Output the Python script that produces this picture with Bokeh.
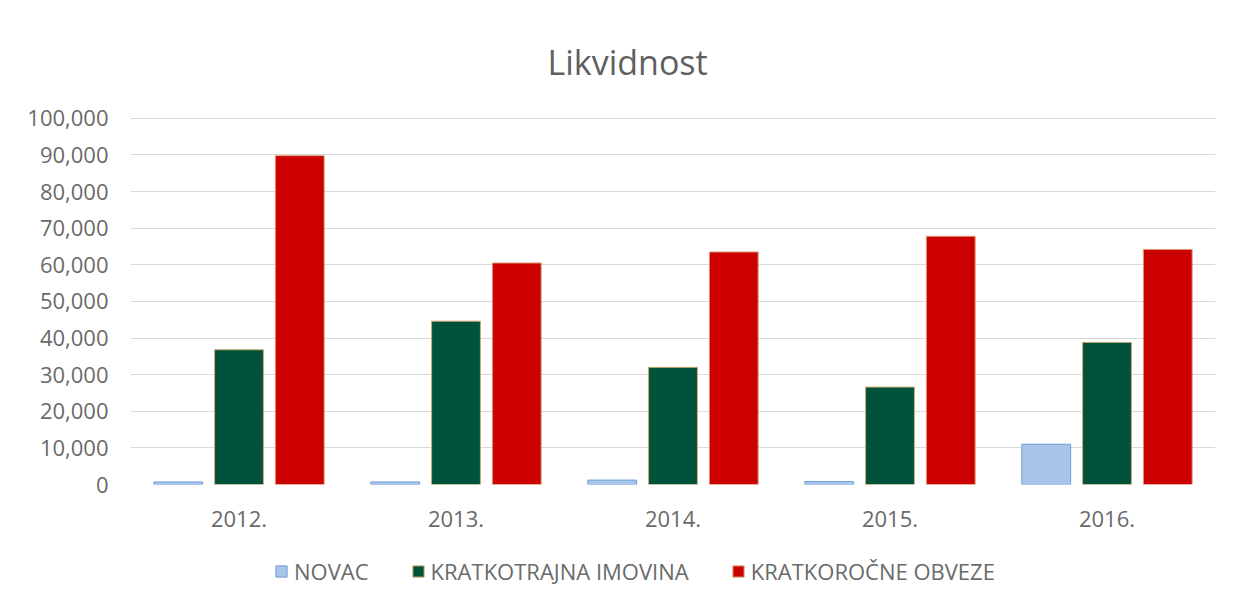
from bokeh.plotting import figure
from bokeh.layouts import column
from bokeh.models import (ColumnDataSource, FactorRange, Range1d, NumeralTickFormatter,
                          FixedTicker, Legend, LegendItem, Title)
from bokeh.transform import dodge
from bokeh.embed import file_html
from bokeh.resources import INLINE

years = ["2012.", "2013.", "2014.", "2015.", "2016."]
novac = [700, 700, 1200, 800, 11000]
kratkotrajna_imovina = [36800, 44600, 32000, 26600, 38800]
kratkorocne_obveze = [89800, 60500, 63500, 67800, 64200]
series_names = ["NOVAC", "KRATKOTRAJNA IMOVINA", "KRATKOROČNE OBVEZE"]
y_ticks = [0, 10000, 20000, 30000, 40000, 50000, 60000, 70000, 80000, 90000, 100000]

src = ColumnDataSource(dict(year=years, novac=novac, kim=kratkotrajna_imovina, kob=kratkorocne_obveze))

FONT = "Open Sans"
TXT = "#6a6a6a"
styles = [dict(fill_color="#a9c5ea", line_color="#6f9cd6"),
          dict(fill_color="#00533b", line_color="#c9aa72"),
          dict(fill_color="#cc0000", line_color="#d9a37a")]
cols = ["novac", "kim", "kob"]
offsets = [-0.28, 0.0, 0.28]

p = figure(width=1220, height=540, x_range=FactorRange(*years, range_padding=0),
           y_range=Range1d(0, 100500), output_backend="svg", toolbar_location=None,
           min_border_left=130, min_border_right=5, min_border_top=116, min_border_bottom=56)
p.outline_line_color = None
p.background_fill_color = "white"
p.border_fill_color = "white"

w = 0.225
for c, o, s in zip(cols, offsets, styles):
    p.vbar(x=dodge("year", o, range=p.x_range), top=c, width=w, source=src, line_width=1, **s)

p.yaxis.ticker = FixedTicker(ticks=y_ticks)
p.yaxis.formatter = NumeralTickFormatter(format="0,0")
for ax in (p.xaxis[0], p.yaxis[0]):
    ax.axis_line_color = None
    ax.major_tick_line_color = None
    ax.minor_tick_line_color = None
    ax.major_label_text_font = FONT
    ax.major_label_text_font_size = "22px"
    ax.major_label_text_color = TXT
p.yaxis.major_label_standoff = 16
p.xaxis.major_label_standoff = 20

p.xgrid.grid_line_color = None
p.ygrid.grid_line_color = "#d9d9d9"
p.ygrid.grid_line_width = 1

p.title = Title(text="Likvidnost", align="left", offset=417, text_font=FONT, text_font_size="34px",
                text_font_style="normal", text_color="#5f5f5f", standoff=64)

# legend strip below the chart
lg = figure(width=1220, height=66, x_range=FactorRange(*years), y_range=Range1d(0, 1),
            output_backend="svg", toolbar_location=None,
            min_border_left=0, min_border_right=0, min_border_top=0, min_border_bottom=0)
lg.axis.visible = False
lg.grid.visible = False
lg.outline_line_color = None
lg.border_fill_color = "white"
items = []
for name, c, s in zip(series_names, cols, styles):
    r = lg.vbar(x="year", top=c, width=w, source=src, line_width=1, visible=False, **s)
    items.append(LegendItem(label=name, renderers=[r]))
legend = Legend(items=items, orientation="horizontal", location=(144, 20),
                label_text_font=FONT, label_text_font_size="22px", label_text_color=TXT,
                glyph_width=14, glyph_height=14, label_standoff=6, spacing=42,
                border_line_color=None, background_fill_alpha=0, padding=0, margin=0,
                inactive_fill_alpha=0)
lg.add_layout(legend)

layout = column(p, lg, spacing=0)
open("out.html", "w").write(file_html(layout, INLINE))
